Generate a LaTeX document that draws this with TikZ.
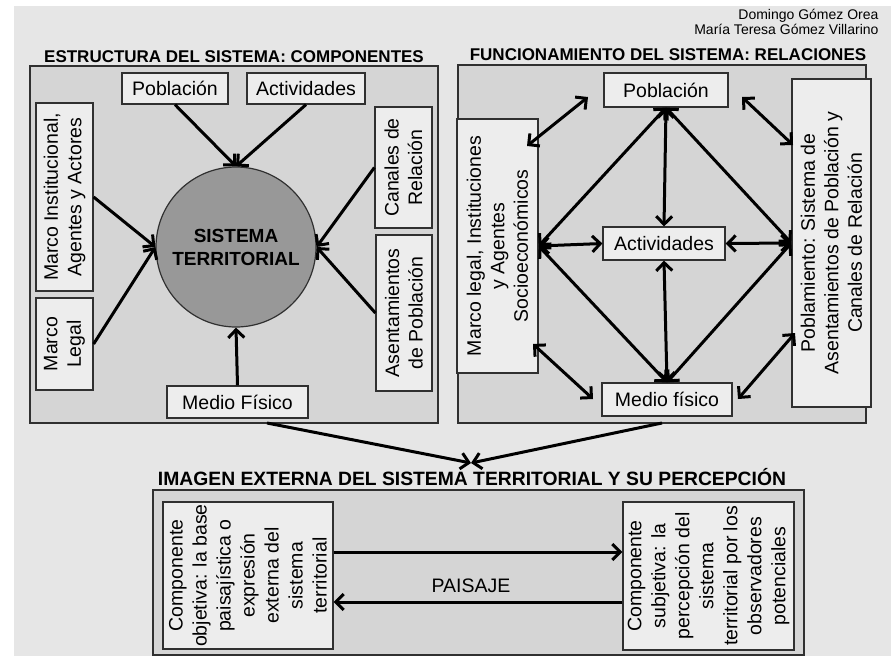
\documentclass[tikz,border=0pt]{standalone}
\usepackage{fontspec}
\setmainfont{Liberation Sans}
\usetikzlibrary{positioning,arrows.meta}

\definecolor{bgcol}{HTML}{E6E6E6}
\definecolor{panelcol}{HTML}{D5D5D5}
\definecolor{boxcol}{HTML}{EDEDED}
\definecolor{circcol}{HTML}{989898}
\definecolor{edgecol}{HTML}{303030}

\begin{document}
\begin{tikzpicture}[
  x=1pt, y=-1pt,
  panel/.style={
    rectangle, draw=edgecol, fill=panelcol,
    line width=1.3pt, inner sep=0pt
  },
  box/.style={
    rectangle, draw=edgecol, fill=boxcol,
    line width=1.2pt, inner sep=0pt,
    align=center, font=\fontsize{19.5}{23.5}\selectfont
  },
  vbox/.style={box, rotate=90},
  heading/.style={font=\bfseries\fontsize{17}{20}\selectfont},
  arrow/.style={-{Straight Barb[length=8pt,width=16pt]}, line width=3pt},
  biarrow/.style={{Straight Barb[length=8pt,width=16pt]}-{Straight Barb[length=8pt,width=16pt]}, line width=3pt}
]

\useasboundingbox (0,0) rectangle (891,656);
\fill[bgcol] (14,6) rectangle (891,656);

% =====================================================
% AUTHORS
% =====================================================

\node[anchor=east, font=\fontsize{14}{15}\selectfont, align=right] (authors) at (882,22)
{Domingo Gómez Orea\\María Teresa Gómez Villarino};

% =====================================================
% ESTRUCTURA DEL SISTEMA
% =====================================================

\node[heading] (ltitle) at (234,57) {ESTRUCTURA DEL SISTEMA: COMPONENTES};
\node[panel, minimum width=408pt, minimum height=357pt] (lpanel) at (234,244.5) {};

\node[box, minimum width=106pt, minimum height=31pt] (lpob) at (175,88.5) {Población};
\node[box, minimum width=118pt, minimum height=31pt] (lact) at (306,88.5) {Actividades};
\node[vbox, minimum width=188pt, minimum height=57pt] (lmin) at (64.5,197)
{Marco Institucional,\\Agentes y Actores};
\node[vbox, minimum width=92pt, minimum height=57pt] (lmleg) at (64.5,344)
{Marco\\Legal};
\node[vbox, minimum width=121pt, minimum height=57pt] (lcan) at (403.5,167.5)
{Canales de\\Relación};
\node[vbox, minimum width=156pt, minimum height=56pt] (lase) at (404,313)
{Asentamientos\\de Población};
\node[box, minimum width=141pt, minimum height=32pt] (lmed) at (237.5,402) {Medio Físico};

\node[circle, draw=edgecol, fill=circcol, line width=1.2pt, minimum size=160pt,
  align=center, font=\bfseries\fontsize{19}{23}\selectfont] (lsis) at (236,247)
{SISTEMA\\TERRITORIAL};

\draw[arrow] (lpob.south) -- (lsis.north);
\draw[arrow] (lact.south) -- (lsis.north);
\draw[arrow] (lmin.south) -- (lsis.west);
\draw[arrow] (lmleg.south) -- (lsis.west);
\draw[arrow] (lcan.north) -- (lsis.east);
\draw[arrow] (lase.north) -- (lsis.east);
\draw[arrow] (lmed.north) -- (lsis.south);

% =====================================================
% FUNCIONAMIENTO DEL SISTEMA
% =====================================================

\node[heading] (rtitle) at (668,55) {FUNCIONAMIENTO DEL SISTEMA: RELACIONES};
\node[panel, minimum width=408pt, minimum height=358pt] (rpanel) at (662,244) {};

\node[vbox, minimum width=254pt, minimum height=81pt] (rml) at (497.5,246)
{Marco legal, Instituciones\\y Agentes\\Socioeconómicos};
\node[vbox, minimum width=328pt, minimum height=79pt] (rpobl) at (831.5,243)
{Poblamiento: Sistema de\\Asentamientos de Población y\\Canales de Relación};

\node[box, minimum width=124pt, minimum height=34pt] (rpob) at (666,90) {Población};
\node[box, minimum width=122pt, minimum height=33pt] (ract) at (664,243.5) {Actividades};
\node[box, minimum width=130pt, minimum height=33pt] (rmed) at (667,399.5) {Medio físico};

\draw[biarrow] (rpob.south) -- (rml.south);
\draw[biarrow] (rpob.south) -- (rpobl.north);
\draw[biarrow] (rpob.south) -- (ract.north);
\draw[biarrow] (rml.south) -- (ract.west);
\draw[biarrow] (ract.east) -- (rpobl.north);
\draw[biarrow] (rml.south) -- (rmed.north);
\draw[biarrow] (ract.south) -- (rmed.north);
\draw[biarrow] (rpobl.north) -- (rmed.north);

% short links at the corners
\coordinate (ulA) at (588,97);  \coordinate (ulB) at (527,146);
\coordinate (urA) at (742,97);  \coordinate (urB) at (793,145);
\coordinate (llA) at (533,344); \coordinate (llB) at (593,399);
\coordinate (lrA) at (795,333); \coordinate (lrB) at (738,399);
\draw[biarrow] (ulA) -- (ulB);
\draw[biarrow] (urA) -- (urB);
\draw[biarrow] (llA) -- (llB);
\draw[biarrow] (lrA) -- (lrB);

% =====================================================
% IMAGEN EXTERNA
% =====================================================

\coordinate (lout) at (267,423);
\coordinate (rout) at (662,423);
\coordinate (imgtop) at (471,463);
\draw[arrow] (lout) -- (imgtop);
\draw[arrow] (rout) -- (imgtop);

\node[heading, font=\bfseries\fontsize{19.3}{22}\selectfont] (btitle) at (472,477)
{IMAGEN EXTERNA DEL SISTEMA TERRITORIAL Y SU PERCEPCIÓN};
\node[panel, minimum width=651pt, minimum height=165pt] (bpanel) at (478.5,572.5) {};

\node[vbox, minimum width=147pt, minimum height=170pt, font=\fontsize{19.5}{24}\selectfont] (bobj) at (248,575.5)
{Componente\\objetiva: la base\\paisajística o\\expresión\\externa del\\sistema\\territorial};
\node[vbox, minimum width=148pt, minimum height=171pt, font=\fontsize{19.5}{24}\selectfont] (bsub) at (708.5,576)
{Componente\\subjetiva: la\\percepción del\\sistema\\territorial por los\\observadores\\potenciales};

\draw[arrow] ([yshift=23.5pt]bobj.south) -- ([yshift=23.5pt]bobj.south -| bsub.north);
\draw[arrow] ([yshift=-26pt]bsub.north) -- ([yshift=-26pt]bsub.north -| bobj.south);

\node[font=\fontsize{19.5}{23}\selectfont] (paisaje) at (471,586) {PAISAJE};

\end{tikzpicture}
\end{document}
